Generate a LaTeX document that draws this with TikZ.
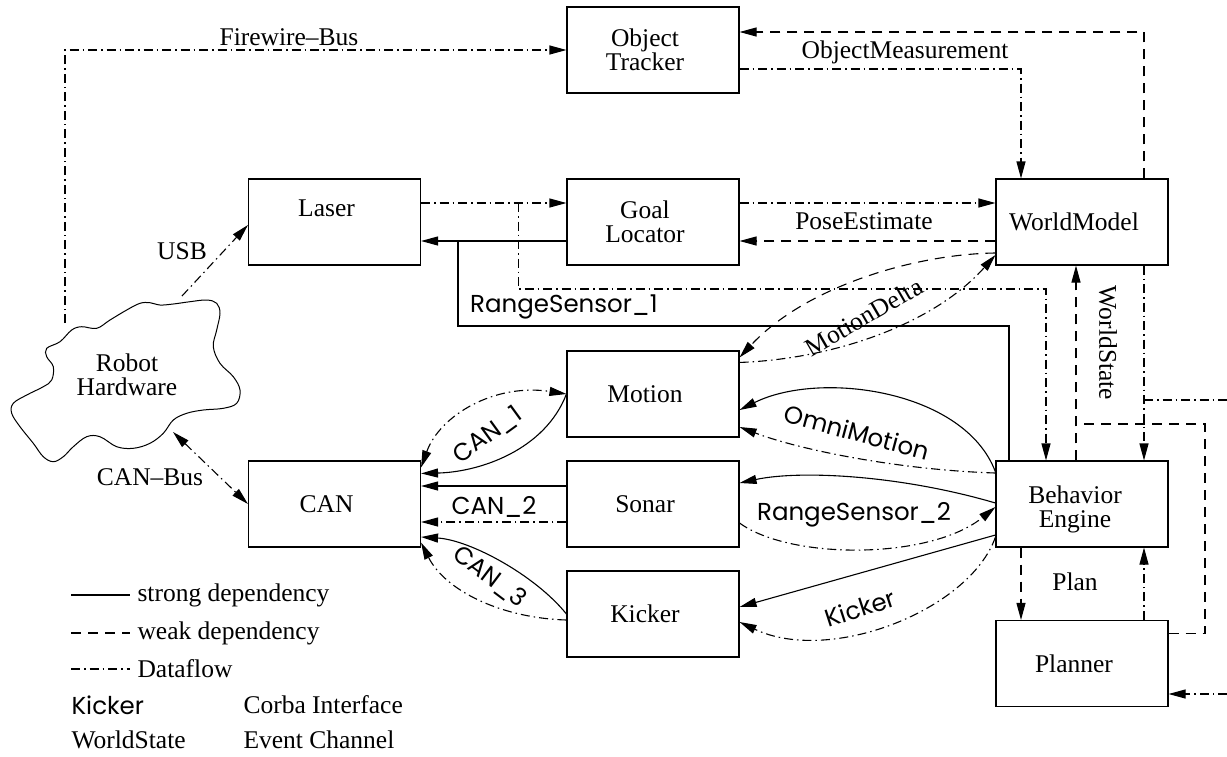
\documentclass[tikz,border=0pt]{standalone}
\usepackage{fontspec}
\setmainfont{Liberation Serif}
\newfontfamily\ifacefont{Poppins}
\usetikzlibrary{arrows.meta,calc}
\newcommand{\bigserif}{\fontsize{25.5pt}{24pt}\selectfont}
\newcommand{\ifacetxt}{\ifacefont\fontsize{24.5pt}{26pt}\selectfont}

\begin{document}
\begin{tikzpicture}[x=1pt,y=-1pt,line width=1.1pt,
  >={Triangle[length=17pt,width=9pt]},
  ev/.style={font=\bigserif, inner sep=0pt, align=center},
  ci/.style={font=\ifacetxt, inner sep=0pt},
  box/.style={draw, minimum width=172pt, minimum height=86pt, inner sep=0pt,
              label={[ev,xshift=-8pt]center:#1}},
  sdep/.style={},
  wdep/.style={dash pattern=on 10pt off 7pt},
  dflow/.style={dash pattern=on 9pt off 4pt on 1.5pt off 4pt}]

\useasboundingbox (0,0) rectangle (1227,756);

% ---------------- components ----------------
\node[box={Object\\Tracker}] (ot) at (653,50) {};
\node[box={}, label={[ev,xshift=-8pt,yshift=14pt]center:Laser}] (laser) at (334.5,222) {};
\node[box={Goal\\Locator}] (goal) at (653,222) {};
\node[box=WorldModel] (wm) at (1082,222) {};
\node[box=Motion] (motion) at (653,394) {};
\node[box=CAN] (can) at (334.5,504) {};
\node[box=Sonar] (sonar) at (653,504) {};
\node[box=Kicker] (kicker) at (653,614) {};
\node[box={}, label={[ev,xshift=-7pt,yshift=-5pt]center:{Behavior\\Engine}}] (be) at (1082,504) {};
\node[box=Planner] (planner) at (1082,663.5) {};

% robot hardware cloud
\node[ev] (rh) at (127,375) {Robot\\Hardware};
\draw[line width=1pt] plot[smooth cycle, tension=0.6] coordinates {
  (46.7,348.3) (60,341.7) (71.7,330) (81.7,326.7) (96.7,328.3) (110,320)
  (126.7,310) (140,303.3) (150,302.7) (160,305) (173.3,304) (190,301.7)
  (206.7,300) (216.7,303.3) (220,313.3) (216.7,330) (213.3,346.7)
  (220,363.3) (233.3,376.7) (240,390) (236.7,403.3) (223.3,408.3)
  (203.3,410) (186.7,413.3) (173.3,420) (163.3,433.3) (150,443.3)
  (133.3,448.3) (116.7,446.7) (100,436.7) (86.7,436.7) (73.3,446.7)
  (63.3,456.7) (53.3,461.7) (43.3,456.7) (33.3,443.3) (20,426.7)
  (11.7,413.3) (13.3,403.3) (26.7,395) (43.3,386.7) (51.7,380)
  (53.3,366.7) (46.7,356.7)};
\coordinate (rhfw) at (65,323);
\coordinate (rhusb) at (182,296);
\coordinate (rhcan) at (173,432);

% ---------------- hardware buses ----------------
\draw[dflow,->] (rhfw) |- (ot.west);
\node[ev] (lfw) at (289,37) {Firewire--Bus};
\draw[dflow,->] (rhusb) -- ([yshift=-3pt]laser.west);
\node[ev] (lusb) at (182,251) {USB};
\draw[dflow,<->] (rhcan) -- (can.west);
\node[ev] (lcb) at (150,477) {CAN--Bus};

% ---------------- object tracker ----------------
\draw[dflow,->] ([yshift=-19pt]ot.east) -| ([xshift=-61pt]wm.north);
\node[ev] (lom) at (905,52) {ObjectMeasurement};
\draw[wdep,->] ([xshift=62pt]wm.north) |- ([yshift=18pt]ot.east);

% ---------------- laser / goal locator / world model ----------------
\draw[dflow,->] ([yshift=19pt]laser.east) -- ([yshift=19pt]goal.west);
\draw[sdep,->] ([yshift=-19pt]goal.west) -- ([yshift=-19pt]laser.east);
\draw[dflow,->] ([yshift=19pt]goal.east) -- ([yshift=19pt]wm.west);
\draw[wdep,->] ([yshift=-19pt]wm.west) -- ([yshift=-19pt]goal.east);
\node[ev] (lpe) at (864,221) {PoseEstimate};

\coordinate (lsplit) at ([xshift=97pt,yshift=19pt]laser.east);
\coordinate (lcorner) at (1046,289);
\draw[dflow,->] (lsplit) |- (lcorner) -- (lcorner |- be.north);

\coordinate (rsjoin) at (458,241);
\coordinate (rscorner) at (1009,326);
\draw[sdep] (rscorner |- be.north) -- (rscorner) -| (rsjoin);
\node[ci] (lrs1) at (564,307) {RangeSensor\_1};

% ---------------- CAN interfaces ----------------
\draw[dflow,<->] ([yshift=-7pt]can.north east) .. controls (440,415) and (495,383) .. (motion.west);
\draw[sdep,->] (motion.west) .. controls (545,450) and (480,472) .. ([yshift=-13pt]can.north east);
\node[ci,rotate=36] (lc1) at (488,435) {CAN\_1};

\draw[sdep,->] ([yshift=18pt]sonar.west) -- ([yshift=18pt]can.east);
\draw[dflow,->] ([yshift=-18pt]sonar.west) -- ([yshift=-18pt]can.east);
\node[ci] (lc2) at (494,507) {CAN\_2};

\draw[sdep,->] (kicker.west) .. controls (535,575) and (470,540) .. ([yshift=-33pt]can.east);
\draw[dflow,->] ([yshift=-6pt]kicker.west) .. controls (500,618) and (445,590) .. ([yshift=5pt]can.south east);
\node[ci,rotate=-37] (lc3) at (490,577) {CAN\_3};

% ---------------- behaviour engine interfaces ----------------
\draw[sdep,->] ([yshift=32pt]be.west) .. controls (965,390) and (820,370) .. ([yshift=-16pt]motion.east);
\draw[dflow,->] ([yshift=31pt]be.west) .. controls (900,470) and (800,450) .. ([yshift=-33pt]motion.east);
\node[ci,rotate=-15] (lomni) at (857,432) {OmniMotion};

\draw[sdep,->] ([yshift=1pt]be.west) .. controls (900,475) and (800,470) .. ([yshift=21pt]sonar.east);
\draw[dflow,->] ([yshift=-19pt]sonar.east) .. controls (790,560) and (930,560) .. ([yshift=-3pt]be.west);
\node[ci] (lrs2) at (854,515) {RangeSensor\_2};

\draw[sdep,->] ([yshift=-31pt]be.west) -- ([yshift=7pt]kicker.east);
\draw[dflow,->] ([yshift=-33pt]be.west) .. controls (970,610) and (830,665) .. ([yshift=-8pt]kicker.east);
\node[ci,rotate=18] (lki) at (860,608) {Kicker};

\draw[wdep,->] ([yshift=-31pt]wm.west) .. controls (916,254) and (806,286) .. ([yshift=-7pt]motion.north east);
\draw[dflow,->] ([yshift=-12pt]motion.north east) .. controls (834,359) and (934,324) .. ([yshift=-33pt]wm.west);
\node[ev,rotate=30] (lmd) at (864,317) {MotionDelta};

% ---------------- world state and plan ----------------
\coordinate (wsdrop) at ([xshift=62pt]wm.south);
\coordinate (wsup) at ([xshift=-6pt]be.north);
\draw[dflow,->] (wsdrop) -- (wsdrop |- be.north);
\draw[wdep,->] (wsup) -- (wsup |- wm.south);
\node[ev,rotate=-90] (lws) at (1108,343) {WorldState};

\coordinate (wsout) at (1227,400);
\draw[dflow] (wsdrop |- wsout) -- (wsout);
\coordinate (plin) at (1227,694);
\draw[dflow,->] (plin) -- (plin -| planner.east);

\coordinate (plcorner) at (1205,424);
\draw[wdep] ([yshift=30pt]planner.east) -| (plcorner) -- (plcorner -| wsup);

\draw[wdep,->] ([xshift=-61pt]be.south) -- ([xshift=-61pt]planner.north);
\draw[dflow,->] ([xshift=62pt]planner.north) -- ([xshift=62pt]be.south);
\node[ev] (lplan) at (1075,582) {Plan};

% ---------------- legend ----------------
\coordinate (k1a) at (71,595); \coordinate (k1b) at (130,595);
\coordinate (k2a) at (71,633); \coordinate (k2b) at (130,633);
\coordinate (k3a) at (71,669); \coordinate (k3b) at (130,669);
\draw[sdep] (k1a) -- (k1b);
\draw[wdep] (k2a) -- (k2b);
\draw[dflow] (k3a) -- (k3b);
\node[ev,anchor=west] (k1t) at (137,595) {strong dependency};
\node[ev,anchor=west] (k2t) at (137,633) {weak dependency};
\node[ev,anchor=west] (k3t) at (137,669) {Dataflow};
\node[ci,anchor=west] (k4a) at (71,705) {Kicker};
\node[ev,anchor=west] (k4b) at (243,705) {Corba Interface};
\node[ev,anchor=west] (k5a) at (71,740) {WorldState};
\node[ev,anchor=west] (k5b) at (243,740) {Event Channel};

\end{tikzpicture}
\end{document}
